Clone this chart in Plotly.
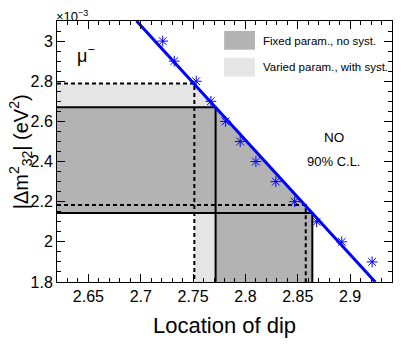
import plotly.graph_objects as go

# ---- data (|dm^2_32| in units of 1e-3 eV^2) ----
dip_points = [2.721, 2.732, 2.753, 2.767, 2.781, 2.795, 2.810, 2.829, 2.847, 2.868, 2.892, 2.921]
dm_points = [3.0, 2.9, 2.8, 2.7, 2.6, 2.5, 2.4, 2.3, 2.2, 2.1, 2.0, 1.9]

fit_dip = [2.696, 2.924]
fit_dm = [3.1, 1.8]

# Fixed param., no syst. (solid)
fixed_dm_hi, fixed_dm_lo = 2.67, 2.144
fixed_dip_lo, fixed_dip_hi = 2.7715, 2.8639
# Varied param., with syst. (dashed)
varied_dm_hi, varied_dm_lo = 2.789, 2.183
varied_dip_lo, varied_dip_hi = 2.7512, 2.8576

x_range = [2.62, 2.94]
y_range = [1.8, 3.1]
x_tickvals = [2.65, 2.7, 2.75, 2.8, 2.85, 2.9]
x_ticktext = ["2.65", "2.7", "2.75", "2.8", "2.85", "2.9"]
y_tickvals = [1.8, 2.0, 2.2, 2.4, 2.6, 2.8, 3.0]
y_ticktext = ["1.8", "2", "2.2", "2.4", "2.6", "2.8", "3"]

DARK = "#b3b3b3"
LIGHT = "#e5e5e5"
BLUE = "#0000ff"
FONT = "Liberation Sans"

def region(dm_hi, dm_lo, dip_lo, dip_hi):
    xs = [x_range[0], dip_lo, dip_hi, dip_hi, dip_lo, dip_lo, x_range[0], x_range[0]]
    ys = [dm_hi, dm_hi, dm_lo, y_range[0], y_range[0], dm_lo, dm_lo, dm_hi]
    return xs, ys

def outline(dm_hi, dm_lo, dip_lo, dip_hi):
    xs = [x_range[0], dip_lo, dip_lo, None, x_range[0], dip_hi, dip_hi]
    ys = [dm_hi, dm_hi, y_range[0], None, dm_lo, dm_lo, y_range[0]]
    return xs, ys

fig = go.Figure()

vx, vy = region(varied_dm_hi, varied_dm_lo, varied_dip_lo, varied_dip_hi)
fig.add_trace(go.Scatter(x=vx, y=vy, fill="toself", fillcolor=LIGHT, mode="none",
                         hoverinfo="skip", showlegend=False))
fx, fy = region(fixed_dm_hi, fixed_dm_lo, fixed_dip_lo, fixed_dip_hi)
fig.add_trace(go.Scatter(x=fx, y=fy, fill="toself", fillcolor=DARK, mode="none",
                         hoverinfo="skip", showlegend=False))

ox, oy = outline(varied_dm_hi, varied_dm_lo, varied_dip_lo, varied_dip_hi)
fig.add_trace(go.Scatter(x=ox, y=oy, mode="lines",
                         line=dict(color="black", width=2, dash="4px,3px"),
                         showlegend=False, hoverinfo="skip"))
ox, oy = outline(fixed_dm_hi, fixed_dm_lo, fixed_dip_lo, fixed_dip_hi)
fig.add_trace(go.Scatter(x=ox, y=oy, mode="lines",
                         line=dict(color="black", width=2),
                         showlegend=False, hoverinfo="skip"))

fig.add_trace(go.Scatter(x=fit_dip, y=fit_dm, mode="lines",
                         line=dict(color=BLUE, width=3),
                         showlegend=False, hoverinfo="skip"))
fig.add_trace(go.Scatter(x=dip_points, y=dm_points, mode="markers",
                         marker=dict(symbol="asterisk-open", size=9, color=BLUE,
                                     line=dict(color=BLUE, width=1)),
                         showlegend=False))

axis_common = dict(
    showline=True, linecolor="black", linewidth=1, mirror="ticks",
    ticks="inside", ticklen=8, tickcolor="black", tickwidth=1,
    showgrid=False, zeroline=False, automargin=False,
    tickfont=dict(family=FONT, size=16, color="black"),
)

fig.update_xaxes(range=x_range, tickvals=x_tickvals, ticktext=x_ticktext,
                 minor=dict(ticks="inside", ticklen=4, dtick=0.01, tick0=2.6,
                            tickcolor="black", showgrid=False),
                 **axis_common)
fig.update_yaxes(range=y_range, tickvals=y_tickvals, ticktext=y_ticktext,
                 minor=dict(ticks="inside", ticklen=4, dtick=0.05, tick0=1.8,
                            tickcolor="black", showgrid=False),
                 **axis_common)

annotations = [
    dict(text="Location of dip", xref="paper", yref="paper", x=0.5, y=-0.11,
         xanchor="center", yanchor="top", showarrow=False,
         font=dict(family=FONT, size=22, color="black")),
    dict(text="|Δm<sup>2</sup><sub>32</sub>| (eV<sup>2</sup>)", xref="paper", yref="paper",
         x=-0.108, y=0.5, xanchor="center", yanchor="middle", textangle=-90,
         showarrow=False, font=dict(family=FONT, size=20, color="black")),
    dict(text="×10<sup>−3</sup>", xref="paper", yref="paper", x=0.0, y=1.0,
         xanchor="left", yanchor="bottom", showarrow=False, yshift=-5, xshift=-3,
         font=dict(family=FONT, size=13, color="black")),
    dict(text="μ<sup>−</sup>", xref="paper", yref="paper", x=0.088, y=0.872,
         xanchor="center", yanchor="middle", showarrow=False,
         font=dict(family=FONT, size=18, color="black")),
    dict(text="NO", xref="paper", yref="paper", x=0.826, y=0.555,
         xanchor="center", yanchor="middle", showarrow=False,
         font=dict(family=FONT, size=13.5, color="black")),
    dict(text="90% C.L.", xref="paper", yref="paper", x=0.826, y=0.463,
         xanchor="center", yanchor="middle", showarrow=False,
         font=dict(family=FONT, size=13, color="black")),
    dict(text="Fixed param., no syst.", xref="paper", yref="paper", x=0.61, y=0.925,
         xanchor="left", yanchor="middle", showarrow=False,
         font=dict(family=FONT, size=11.5, color="black")),
    dict(text="Varied param., with syst.", xref="paper", yref="paper", x=0.61, y=0.822,
         xanchor="left", yanchor="middle", showarrow=False,
         font=dict(family=FONT, size=11.5, color="black")),
]

shapes = [
    dict(type="rect", xref="paper", yref="paper", x0=0.499, x1=0.591, y0=0.89, y1=0.962,
         fillcolor=DARK, line=dict(width=0), layer="above"),
    dict(type="rect", xref="paper", yref="paper", x0=0.499, x1=0.591, y0=0.787, y1=0.859,
         fillcolor=LIGHT, line=dict(width=0), layer="above"),
]

fig.update_layout(
    width=407, height=344,
    margin=dict(l=57, r=15, t=21, b=62),
    plot_bgcolor="white", paper_bgcolor="white",
    annotations=annotations, shapes=shapes,
    showlegend=False,
    font=dict(family=FONT, color="black"),
)

fig.write_html("out.html", config={"displayModeBar": False},
               post_script="document.body.style.margin='0';document.body.style.overflow='hidden';")
